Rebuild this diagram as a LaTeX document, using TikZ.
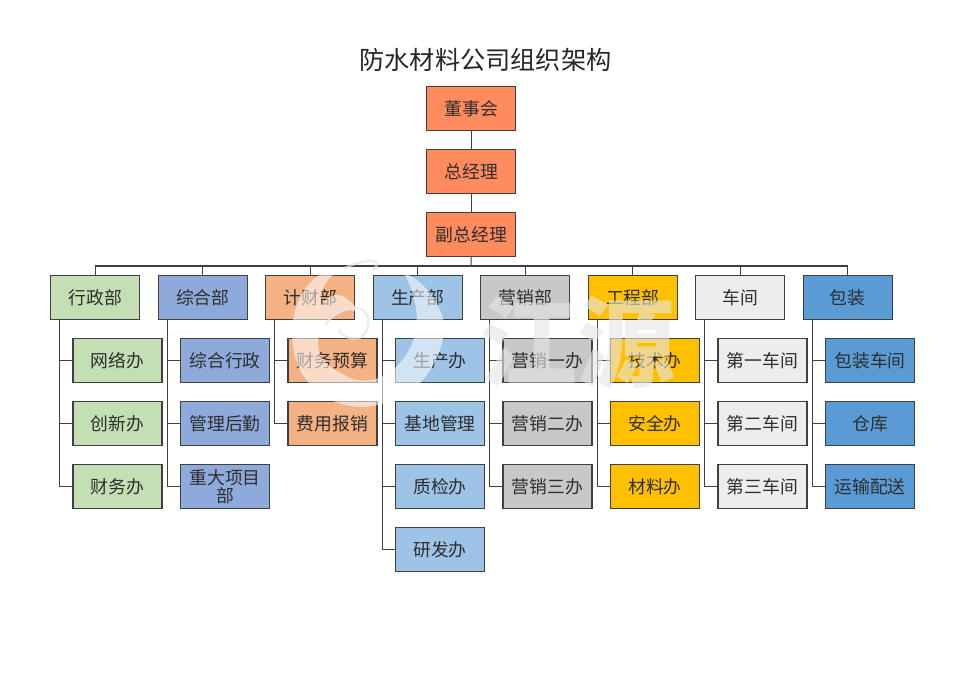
\documentclass[tikz,border=0pt]{standalone}
\usepackage{fontspec}
\setmainfont{Noto Sans CJK SC}
\usetikzlibrary{calc}
\definecolor{cTop}{HTML}{FF8B5E}
\definecolor{cGreen}{HTML}{C5DFB4}
\definecolor{cBlue}{HTML}{8EAADB}
\definecolor{cOrange}{HTML}{F4B183}
\definecolor{cSky}{HTML}{9DC3E6}
\definecolor{cGray}{HTML}{C8C8C8}
\definecolor{cGold}{HTML}{FFC000}
\definecolor{cLight}{HTML}{EDEDED}
\definecolor{cDeep}{HTML}{5B9BD5}
\definecolor{cLine}{HTML}{404040}
\tikzset{
  orgbox/.style={draw=cLine,line width=1.05pt,outer sep=0pt,minimum width=89pt,minimum height=44.5pt,
    inner sep=1pt,align=center,font=\fontsize{17.8pt}{20pt}\selectfont,text=black!82,anchor=north west,text width=80pt},
  wire/.style={draw=cLine,line width=1.05pt},
  wmfill/.style={fill=white,opacity=0.55,draw=none},
  wmline/.style={draw=white!90!black,opacity=0.7,line width=2.5pt}
}
\newcommand{\dept}[4]{% name, x, colour, text
  \node[orgbox,fill=#3] (#1) at (#2,275.2) {#4};
  \draw[wire] (#1.north) -- (#1.north |- bus);
  \coordinate (#1t) at ($(#1.south west)+(9,0)$);
}
\newcommand{\kid}[5]{% name, parent, y, colour, text
  \node[orgbox,fill=#4] (#1) at ($(#2.west |- 0,0)+(22.3,#3)$) {#5};
  \draw[wire] (#2t) |- (#1.west);
}
\begin{document}
\begin{tikzpicture}[x=1pt,y=-1pt]
\useasboundingbox (0,0) rectangle (970,685);
\node[font=\fontsize{25.2pt}{28pt}\selectfont,text=black!85,inner sep=0] (title) at (485.5,59.5) {防水材料公司组织架构};
\coordinate (bus) at (471,266);
\node[orgbox,fill=cTop] (a) at (426.7,86.2) {董事会};
\node[orgbox,fill=cTop] (b) at (426.7,149.2) {总经理};
\node[orgbox,fill=cTop] (c) at (426.7,212.2) {副总经理};
\draw[wire] (a) -- (b);
\draw[wire] (b) -- (c);
\draw[wire] (c.south) -- (bus);
\draw[wire] (94.6,266) coordinate (busL) -- (847.5,266) coordinate (busR);
\dept{d1}{50.7}{cGreen}{行政部}
\dept{d2}{158.2}{cBlue}{综合部}
\dept{d3}{265.7}{cOrange}{计财部}
\dept{d4}{373.2}{cSky}{生产部}
\dept{d5}{480.7}{cGray}{营销部}
\dept{d6}{588.2}{cGold}{工程部}
\dept{d7}{695.7}{cLight}{车间}
\dept{d8}{803.2}{cDeep}{包装}
\kid{k11}{d1}{338.2}{cGreen}{网络办}
\kid{k12}{d1}{401.2}{cGreen}{创新办}
\kid{k13}{d1}{464.2}{cGreen}{财务办}
\kid{k21}{d2}{338.2}{cBlue}{综合行政}
\kid{k22}{d2}{401.2}{cBlue}{管理后勤}
\kid{k23}{d2}{464.2}{cBlue}{重大项目\\[-2pt]部}
\kid{k31}{d3}{338.2}{cOrange}{财务预算}
\kid{k32}{d3}{401.2}{cOrange}{费用报销}
\kid{k41}{d4}{338.2}{cSky}{生产办}
\kid{k42}{d4}{401.2}{cSky}{基地管理}
\kid{k43}{d4}{464.2}{cSky}{质检办}
\kid{k44}{d4}{527.2}{cSky}{研发办}
\kid{k51}{d5}{338.2}{cGray}{营销一办}
\kid{k52}{d5}{401.2}{cGray}{营销二办}
\kid{k53}{d5}{464.2}{cGray}{营销三办}
\kid{k61}{d6}{338.2}{cGold}{技术办}
\kid{k62}{d6}{401.2}{cGold}{安全办}
\kid{k63}{d6}{464.2}{cGold}{材料办}
\kid{k71}{d7}{338.2}{cLight}{第一车间}
\kid{k72}{d7}{401.2}{cLight}{第二车间}
\kid{k73}{d7}{464.2}{cLight}{第三车间}
\kid{k81}{d8}{338.2}{cDeep}{包装车间}
\kid{k82}{d8}{401.2}{cDeep}{仓库}
\kid{k83}{d8}{464.2}{cDeep}{运输配送}
% faint mark lying over the chart
\fill[wmfill] (345,268) .. controls (305,268) and (288,310) .. (293,345)
   .. controls (297,385) and (330,408) .. (365,407)
   .. controls (385,405) and (400,400) .. (415,388)
   .. controls (440,365) and (450,330) .. (440,310)
   .. controls (432,292) and (420,280) .. (403,272)
   .. controls (420,300) and (425,340) .. (395,368)
   .. controls (375,385) and (355,382) .. (345,375)
   .. controls (320,365) and (310,345) .. (325,325)
   .. controls (335,312) and (350,305) .. (362,315)
   .. controls (350,298) and (335,285) .. (322,305)
   .. controls (318,295) and (325,275) .. (345,268) -- cycle;
\draw[wmline] (372,270) .. controls (385,262) and (372,255) .. (345,268);
\draw[wmline] (325,325) .. controls (338,305) and (372,300) .. (368,325) .. controls (365,345) and (345,340) .. (338,330);
\node[font=\fontsize{98pt}{98pt}\bfseries\selectfont,text=white!90!black,opacity=0.62,inner sep=0] (wm) at (577,343) {江源};
\end{tikzpicture}
\end{document}
